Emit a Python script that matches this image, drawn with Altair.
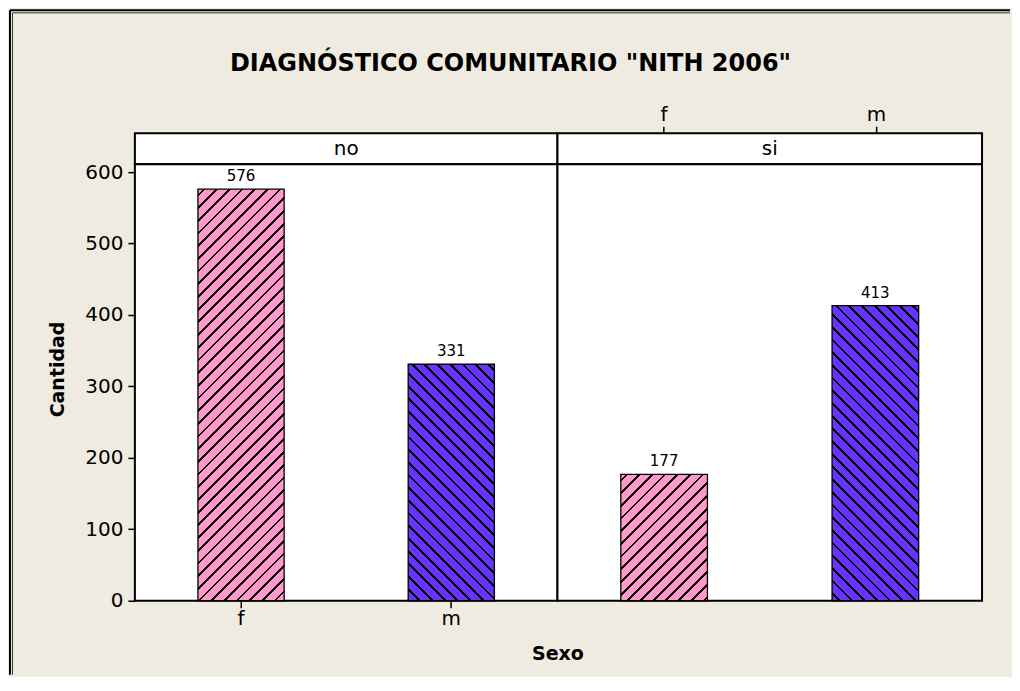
import altair as alt
import pandas as pd

# ---------------- data ----------------
grupos = ["no", "no", "si", "si"]
sexo = ["f", "m", "f", "m"]
cantidad = [576, 331, 177, 413]
y_ticks = [0, 100, 200, 300, 400, 500, 600]
titulo = 'DIAGNÓSTICO COMUNITARIO "NITH 2006"'

# ---------------- style ----------------
FONT = "DejaVu Sans"
BG = "#EFEBE1"
PINK = "#FF99CC"
BLUE = "#6633FF"
YMAX = 611
PLOT_H = 437
STRIP_H = 31
W = {"no": 423, "si": 425}
P_IN, P_OUT = 0.59, 0.3
OX, OY = 134, 163          # page position of the left panel origin
RIGHT, BOTTOM = 1010, 674  # page extent of the figure background

df = pd.DataFrame({"Grupo": grupos, "Sexo": sexo, "Cantidad": cantidad})


def hatch(color, w, h, forward, period=12.7, thick=2.8):
    S = w + h
    stops = [{"offset": 0, "color": color}]
    k = 0
    while True:
        c = k * period + period / 2
        s = (c - thick / 2) / S
        e = (c + thick / 2) / S
        if s >= 1:
            break
        e = min(e, 1)
        stops += [
            {"offset": s, "color": color},
            {"offset": s, "color": "black"},
            {"offset": e, "color": "black"},
            {"offset": e, "color": color},
        ]
        k += 1
    stops.append({"offset": 1, "color": color})
    d = w * w + h * h
    a = w * S / d
    b = h * S / d
    if forward:
        return {"gradient": "linear", "x1": 0, "y1": 0, "x2": a, "y2": b, "stops": stops}
    return {"gradient": "linear", "x1": 1, "y1": 0, "x2": 1 - a, "y2": b, "stops": stops}


def xscale():
    return alt.Scale(domain=["f", "m"], paddingInner=P_IN, paddingOuter=P_OUT)


yscale = alt.Scale(domain=[0, YMAX], nice=False)


def frame_lines():
    one = pd.DataFrame({"k": [0]})
    out = []
    # outer thick line (left and top)
    out.append(alt.Chart(one).mark_rule(stroke="black", strokeWidth=2).encode(
        x=alt.value(9 - OX), y=alt.value(9 - OY), y2=alt.value(BOTTOM - OY)))
    out.append(alt.Chart(one).mark_rule(stroke="black", strokeWidth=2).encode(
        x=alt.value(9 - OX), x2=alt.value(RIGHT - OX), y=alt.value(9 - OY)))
    # inner thin line
    out.append(alt.Chart(one).mark_rule(stroke="#333333", strokeWidth=1).encode(
        x=alt.value(11.5 - OX), y=alt.value(11.5 - OY), y2=alt.value(BOTTOM - OY)))
    out.append(alt.Chart(one).mark_rule(stroke="#333333", strokeWidth=1).encode(
        x=alt.value(11.5 - OX), x2=alt.value(RIGHT - OX), y=alt.value(11.5 - OY)))
    return out


def panel(g):
    sub = df[df.Grupo == g]
    w = W[g]
    step = w / (2 - P_IN + 2 * P_OUT)
    bw = (1 - P_IN) * step
    if g == "no":
        xaxis = alt.Axis(orient="bottom", labelAngle=0, tickSize=7, tickWidth=1.5,
                         labelPadding=1, labelFontSize=20, title="Sexo",
                         titleX=w, titleY=53, titleBaseline="middle",
                         titleFontSize=19, titleFontWeight="bold")
        yaxis = alt.Axis(values=y_ticks, tickSize=7, tickWidth=1.5, labelPadding=5,
                         labelFontSize=20, title="Cantidad", titleFontSize=19,
                         titleFontWeight="bold", titleX=-77, titleY=205,
                         titleBaseline="middle", titleAlign="center")
    else:
        xaxis = None
        yaxis = None
    enc_x = alt.X("Sexo:N", scale=xscale(), axis=xaxis)
    enc_y = alt.Y("Cantidad:Q", scale=yscale, axis=yaxis)
    layers = []
    if g == "no":
        layers += frame_lines()
    for s, c in zip(sub.Sexo, sub.Cantidad):
        h = c * PLOT_H / YMAX
        fill = hatch(PINK if s == "f" else BLUE, bw, h, s == "f")
        layers.append(
            alt.Chart(sub).transform_filter(alt.datum.Sexo == s)
            .mark_bar(fill=fill, stroke="black", strokeWidth=1.3)
            .encode(x=enc_x, y=enc_y)
        )
    layers.append(
        alt.Chart(sub).mark_text(baseline="bottom", dy=-5, fontSize=15, font=FONT, color="black")
        .encode(x=enc_x, y=enc_y, text="Cantidad:Q")
    )
    return alt.layer(*layers).properties(width=w, height=PLOT_H)


def strip(g):
    w = W[g]
    lab = alt.Chart(pd.DataFrame({"Grupo": [g]})).mark_text(
        fontSize=20, font=FONT, color="black", baseline="middle", align="center"
    ).encode(x=alt.value(w / 2), y=alt.value(STRIP_H / 2), text="Grupo:N")
    layers = [lab]
    if g == "si":
        sub = df[df.Grupo == g]
        layers.append(
            alt.Chart(sub).mark_point(opacity=0).encode(
                x=alt.X("Sexo:N", scale=xscale(),
                        axis=alt.Axis(orient="top", labelAngle=0, tickSize=7, tickWidth=1.5,
                                      labelPadding=2, labelFontSize=20, title=None))
            )
        )
    ch = alt.layer(*layers).properties(width=w, height=STRIP_H)
    if g == "no":
        ch = ch.properties(title=alt.TitleParams(
            titulo, anchor="middle", frame="group", dx=164.5, offset=45,
            baseline="middle", fontSize=24, font=FONT, fontWeight="bold", color="black"))
    return ch


chart = alt.concat(
    strip("no"), strip("si"), panel("no"), panel("si"),
    columns=2, spacing=0, bounds="flush"
).resolve_scale(x="independent", y="independent").properties(
    padding=0, background=BG
).configure_view(
    fill="white", stroke="black", strokeWidth=2
).configure_axis(
    grid=False, domain=False, labelColor="black", tickColor="black",
    titleColor="black", labelFont=FONT, titleFont=FONT
)

chart.save("out.html", embed_options={"renderer": "svg", "actions": False})
